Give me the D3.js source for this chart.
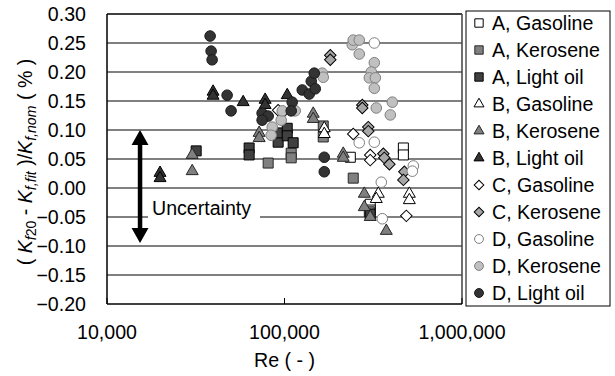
<!DOCTYPE html>
<html lang="en">
<head>
<meta charset="utf-8">
<script src="https://cdn.jsdelivr.net/npm/d3@7"></script>
<style>
  body { margin: 0; background: #fff; }
  svg { font-family: Arial, "Liberation Sans", sans-serif; }
</style>
</head>
<body>
<svg id="chart" width="615" height="376"></svg>
<script>
// [Re, (Kf20 - Kf,fit)/Kf,nom], one array per meter/fuel
const aGasoline = [[234800, 0.053], [467400, 0.069], [467400, 0.057], [304100, -0.028], [304100, -0.038]];
const aKerosene = [[80900, 0.043], [109100, 0.060], [109100, 0.052], [165300, 0.107], [165300, 0.088], [243900, 0.017], [300500, -0.041]];
const aLightOil = [[31800, 0.064], [63200, 0.069], [63200, 0.057], [92100, 0.079], [92100, 0.095], [103600, 0.103], [103600, 0.090], [111900, 0.078], [304100, -0.045]];
const bGasoline = [[167500, 0.103], [167500, 0.093], [337600, -0.010], [328900, -0.019], [505000, -0.010], [505000, -0.021]];
const bKerosene = [[30200, 0.057], [30200, 0.029], [72000, 0.095], [72000, 0.086], [145200, 0.128], [145200, 0.119], [214300, 0.059], [214300, 0.052], [281600, -0.010], [281600, -0.033], [304100, -0.050], [374600, -0.074]];
const bLightOil = [[19900, 0.026], [19900, 0.017], [39600, 0.166], [39600, 0.159], [58500, 0.148], [77800, 0.152], [77800, 0.143], [103600, 0.160]];
const cGasoline = [[243900, 0.093], [304100, 0.057], [304100, 0.048], [485600, -0.048], [92100, 0.134], [98400, 0.131]];
const cKerosene = [[181100, 0.229], [181100, 0.221], [274300, 0.143], [274300, 0.138], [296500, 0.105], [296500, 0.098], [360400, 0.059], [364900, 0.052], [389900, 0.041], [473500, 0.028], [467400, 0.014]];
const dGasoline = [[320600, 0.250], [263700, 0.078], [320600, 0.079], [351000, 0.010], [532000, 0.038], [525000, 0.029], [355600, -0.053]];
const dKerosene = [[85300, 0.105], [84100, 0.091], [95800, 0.117], [97100, 0.133], [114900, 0.133], [163200, 0.198], [165300, 0.191], [240900, 0.247], [243900, 0.255], [263700, 0.255], [263700, 0.231], [320600, 0.216], [308300, 0.200], [300500, 0.190], [325000, 0.190], [320600, 0.172], [404900, 0.148], [328900, 0.138], [394600, 0.126]];
const dLightOil = [[38100, 0.262], [38600, 0.236], [39100, 0.221], [47500, 0.160], [50000, 0.133], [74800, 0.129], [80900, 0.124], [74800, 0.117], [110500, 0.148], [109100, 0.133], [125900, 0.169], [137800, 0.162], [141500, 0.184], [147100, 0.198], [149000, 0.171], [167500, 0.053], [167500, 0.028]];

const seriesNames = ['A, Gasoline', 'A, Kerosene', 'A, Light oil', 'B, Gasoline', 'B, Kerosene', 'B, Light oil',
  'C, Gasoline', 'C, Kerosene', 'D, Gasoline', 'D, Kerosene', 'D, Light oil'];
const seriesData = [aGasoline, aKerosene, aLightOil, bGasoline, bKerosene, bLightOil,
  cGasoline, cKerosene, dGasoline, dKerosene, dLightOil];

const yTicks = [0.30, 0.25, 0.20, 0.15, 0.10, 0.05, 0.00, -0.05, -0.10, -0.15, -0.20];
const xTicks = [10000, 100000, 1000000];
// uncertainty band drawn as an arrow
const uncertaintyRe = 15350;
const uncertaintyRange = [0.10, -0.095];

// marker look per series (same order as seriesNames)
const styles = [
  { shape: 'square', fill: '#ffffff', stroke: '#000000' },
  { shape: 'square', fill: '#808080', stroke: '#262626' },
  { shape: 'square', fill: '#404040', stroke: '#000000' },
  { shape: 'triangle', fill: '#ffffff', stroke: '#000000' },
  { shape: 'triangle', fill: '#808080', stroke: '#262626' },
  { shape: 'triangle', fill: '#333333', stroke: '#000000' },
  { shape: 'diamond', fill: '#ffffff', stroke: '#000000' },
  { shape: 'diamond', fill: '#a6a6a6', stroke: '#000000' },
  { shape: 'circle', fill: '#ffffff', stroke: '#808080' },
  { shape: 'circle', fill: '#c0c0c0', stroke: '#808080' },
  { shape: 'circle', fill: '#333333', stroke: '#1a1a1a' }
];
const symbolType = { square: d3.symbolSquare, triangle: d3.symbolTriangle, diamond: d3.symbolSquare, circle: d3.symbolCircle };
const symbolArea = { square: 100, triangle: 62, diamond: 66, circle: 88 };

const svg = d3.select('#chart');
const plot = { left: 107, right: 462, top: 14, bottom: 304 };
const FONT = 19.6;

const x = d3.scaleLog().domain([1e4, 1e6]).range([plot.left, plot.right]);
const y = d3.scaleLinear().domain([-0.2, 0.3]).range([plot.bottom, plot.top]);

// gridlines
svg.append('g')
  .selectAll('line')
  .data(yTicks.filter(v => v > -0.2 && v < 0.3))
  .join('line')
  .attr('x1', plot.left).attr('x2', plot.right)
  .attr('y1', d => y(d)).attr('y2', d => y(d))
  .attr('stroke', '#808080').attr('stroke-width', 2);

// plot frame: top/right dark grey, axes black
svg.append('line').attr('x1', plot.left).attr('x2', plot.right).attr('y1', plot.top).attr('y2', plot.top)
  .attr('stroke', '#404040').attr('stroke-width', 2);
svg.append('line').attr('x1', plot.right).attr('x2', plot.right).attr('y1', plot.top).attr('y2', plot.bottom)
  .attr('stroke', '#404040').attr('stroke-width', 1.5);
svg.append('line').attr('x1', plot.left).attr('x2', plot.left).attr('y1', plot.top).attr('y2', plot.bottom)
  .attr('stroke', '#000').attr('stroke-width', 1.5);
svg.append('line').attr('x1', plot.left).attr('x2', plot.right).attr('y1', plot.bottom).attr('y2', plot.bottom)
  .attr('stroke', '#000').attr('stroke-width', 1.5);

// inner x ticks
svg.append('g').selectAll('line').data(xTicks).join('line')
  .attr('x1', d => x(d)).attr('x2', d => x(d))
  .attr('y1', plot.bottom).attr('y2', plot.bottom - 6)
  .attr('stroke', '#000').attr('stroke-width', 1);

// tick labels
svg.append('g').selectAll('text').data(yTicks).join('text')
  .attr('x', 86).attr('y', d => y(d)).attr('dy', '0.35em')
  .attr('text-anchor', 'end').attr('font-size', FONT)
  .text(d => d3.format('.2f')(d));

svg.append('g').selectAll('text').data(xTicks).join('text')
  .attr('x', d => x(d)).attr('y', 332).attr('dy', '0.35em')
  .attr('text-anchor', 'middle').attr('font-size', FONT)
  .text(d => d3.format(',')(d));

svg.append('text')
  .attr('x', x(100000)).attr('y', 360).attr('dy', '0.35em')
  .attr('text-anchor', 'middle').attr('font-size', FONT)
  .text('Re ( - )');

// y label: italic K with subscripts (sub = shifted down, smaller)
const yLabel = svg.append('text')
  .attr('transform', 'translate(25,162) rotate(-90)')
  .attr('text-anchor', 'middle').attr('font-size', FONT).attr('dy', '0.35em');
const parts = [
  ['( ', 'n'], ['K', 'i'], ['f', 's'], ['20', 'u'], [' - ', 'n'], ['K', 'i'], ['f,fit', 's'],
  [' )/', 'n'], ['K', 'i'], ['f,nom', 's'], [' ( % )', 'n']
];
let inSub = false;
parts.forEach(([t, kind]) => {
  const sub = kind === 's' || kind === 'u';
  const ts = yLabel.append('tspan').attr('xml:space', 'preserve').text(t);
  if (kind === 'i' || kind === 's') ts.attr('font-style', 'italic');
  if (sub) ts.attr('font-size', FONT * 0.72);
  if (sub && !inSub) ts.attr('dy', 4);
  if (!sub && inSub) ts.attr('dy', -4);
  inSub = sub;
});

// uncertainty arrow + label
const ax = x(uncertaintyRe);
const yTop = y(uncertaintyRange[0]);
const yBot = y(uncertaintyRange[1]);
const headL = 15, headW = 8.5;
svg.append('line').attr('x1', ax).attr('x2', ax).attr('y1', yTop + headL - 1).attr('y2', yBot - headL + 1)
  .attr('stroke', '#000').attr('stroke-width', 4.5);
svg.append('path')
  .attr('d', `M${ax},${yTop}L${ax - headW},${yTop + headL}L${ax + headW},${yTop + headL}Z`)
  .attr('fill', '#000');
svg.append('path')
  .attr('d', `M${ax},${yBot}L${ax - headW},${yBot - headL}L${ax + headW},${yBot - headL}Z`)
  .attr('fill', '#000');
svg.append('rect').attr('x', 148).attr('y', 195).attr('width', 112).attr('height', 30).attr('fill', '#fff');
svg.append('text').attr('x', 152).attr('y', 215).attr('font-size', FONT).text('Uncertainty');

// data points
const symbolPath = (st, scale) => d3.symbol().type(symbolType[st.shape]).size(symbolArea[st.shape] * scale)();
seriesData.forEach((pts, i) => {
  const st = styles[i];
  svg.append('g')
    .selectAll('path')
    .data(pts)
    .join('path')
    .attr('d', symbolPath(st, 1))
    .attr('transform', d => `translate(${x(d[0])},${y(d[1])})` + (st.shape === 'diamond' ? ' rotate(45)' : ''))
    .attr('fill', st.fill).attr('stroke', st.stroke).attr('stroke-width', 1);
});

// legend
const legend = svg.append('g');
legend.append('rect').attr('x', 466).attr('y', 11).attr('width', 144).attr('height', 295)
  .attr('fill', '#fff').attr('stroke', '#000').attr('stroke-width', 1);
const rows = legend.selectAll('g.row').data(seriesNames).join('g')
  .attr('class', 'row')
  .attr('transform', (d, i) => `translate(479,${23 + i * 27})`);
rows.append('path')
  .attr('d', (d, i) => symbolPath(styles[i], 0.7))
  .attr('transform', (d, i) => styles[i].shape === 'diamond' ? 'rotate(45)' : null)
  .attr('fill', (d, i) => styles[i].fill).attr('stroke', (d, i) => styles[i].stroke).attr('stroke-width', 1);
rows.append('text').attr('x', 13).attr('dy', '0.35em').attr('font-size', FONT).text(d => d);
</script>
</body>
</html>
